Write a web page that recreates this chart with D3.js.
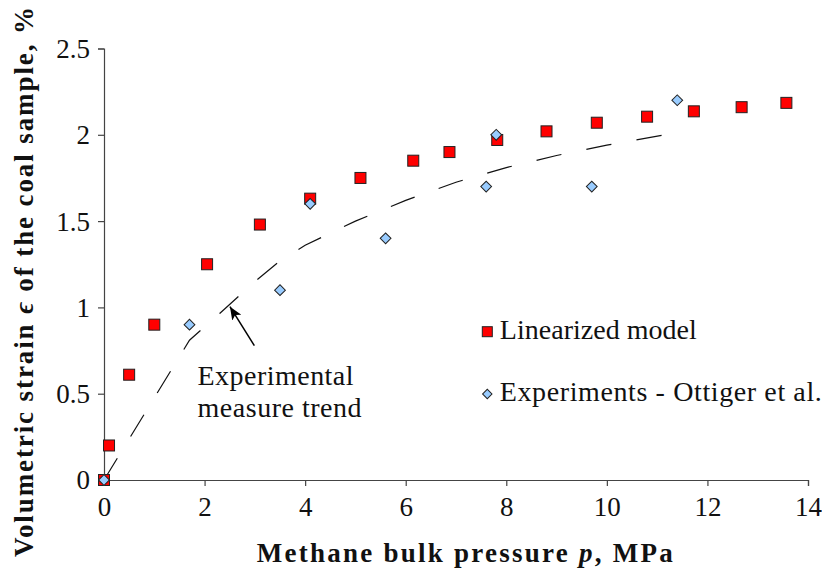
<!DOCTYPE html>
<html>
<head>
<meta charset="utf-8">
<script src="https://cdn.jsdelivr.net/npm/d3@7"></script>
<style>
  body { margin: 0; background: #fff; }
  svg text { font-family: "Liberation Serif", serif; fill: #111; }
</style>
</head>
<body>
<script>
// data
var modelP = [0, 0.1, 0.5, 1.0, 2.05, 3.1, 4.1, 5.1, 6.15, 6.87, 7.82, 8.8, 9.8, 10.8, 11.73, 12.68, 13.57];
var modelE = [0, 0.2, 0.61, 0.90, 1.25, 1.48, 1.63, 1.75, 1.85, 1.90, 1.97, 2.02, 2.07, 2.105, 2.136, 2.16, 2.185];

var expP = [0, 1.7, 3.5, 4.1, 5.6, 7.6, 7.8, 9.7, 11.4];
var expE = [0, 0.9, 1.1, 1.6, 1.4, 1.7, 2.0, 1.7, 2.2];

var trendP = [0, 1.7, 2.3, 3.0, 3.5, 4.0, 5.0, 6.0, 7.0, 8.0, 9.0, 10.0, 11.35];
var trendE = [0, 0.81, 0.965, 1.15, 1.27, 1.36, 1.50, 1.62, 1.725, 1.81, 1.88, 1.94, 2.01];

var xTicks = [0, 2, 4, 6, 8, 10, 12, 14];
var yTicks = [0, 0.5, 1, 1.5, 2, 2.5];

var legendLabels = ["Linearized model", "Experiments - Ottiger et al."];
var legendWidths = [197, 322];
var noteLines = ["Experimental", "measure trend"];
var noteWidths = [156, 164];
var noteAt = [1.86, 0.55];
var arrowFrom = [2.99, 0.778];
var arrowTo = [2.505, 1.004];

var width = 822, height = 571;
var margin = {top: 48.5, right: 14, bottom: 91, left: 104};

var svg = d3.select("body").append("svg")
    .attr("width", width)
    .attr("height", height);

var xScale = d3.scaleLinear().domain([0, 14]).range([margin.left, width - margin.right]);
var yScale = d3.scaleLinear().domain([0, 2.5]).range([height - margin.bottom, margin.top]);

svg.append("defs").append("marker")
    .attr("id", "arrowhead")
    .attr("viewBox", "0 0 12 10")
    .attr("refX", 12)
    .attr("refY", 5)
    .attr("markerWidth", 13)
    .attr("markerHeight", 11)
    .attr("markerUnits", "userSpaceOnUse")
    .attr("orient", "auto")
    .append("path")
    .attr("d", "M0,0 L12,5 L0,10 L3,5 Z")
    .attr("fill", "#000");

// axes
var xAxis = svg.append("g")
    .attr("transform", "translate(0," + yScale(0) + ")")
    .call(d3.axisBottom(xScale).tickValues(xTicks).tickSizeOuter(0).tickSize(6).tickPadding(9)
        .tickFormat(d3.format("d")));

var yAxis = svg.append("g")
    .attr("transform", "translate(" + xScale(0) + ",0)")
    .call(d3.axisLeft(yScale).tickValues(yTicks).tickSizeOuter(0).tickSize(6).tickPadding(8)
        .tickFormat(function(d) { return String(d); }));

svg.selectAll(".domain, .tick line").attr("stroke", "#444").attr("stroke-width", 1.2);
svg.selectAll(".tick text")
    .style("font-family", "'Liberation Serif', serif")
    .style("font-size", "27px")
    .attr("fill", "#111");
xAxis.selectAll(".tick text").attr("dy", "0.78em");
yAxis.selectAll(".tick text").attr("dy", "0.33em");

// trend line
var trend = trendP.map(function(p, i) { return [p, trendE[i]]; });
var line = d3.line()
    .x(function(d) { return xScale(d[0]); })
    .y(function(d) { return yScale(d[1]); });

svg.append("path")
    .datum(trend)
    .attr("d", line)
    .attr("fill", "none")
    .attr("stroke", "#111")
    .attr("stroke-width", 1.2)
    .attr("stroke-dasharray", "25.5,25.5");

// model squares
var sq = 11;
svg.selectAll(".model")
    .data(modelP.map(function(p, i) { return [p, modelE[i]]; }))
    .enter().append("rect")
    .attr("class", "model")
    .attr("x", function(d) { return xScale(d[0]) - sq / 2; })
    .attr("y", function(d) { return yScale(d[1]) - sq / 2; })
    .attr("width", sq)
    .attr("height", sq)
    .attr("fill", "#ff0000")
    .attr("stroke", "#222")
    .attr("stroke-width", 1);

// experiment diamonds
var dia = d3.symbol().type(d3.symbolSquare).size(58);
svg.selectAll(".exp")
    .data(expP.map(function(p, i) { return [p, expE[i]]; }))
    .enter().append("path")
    .attr("class", "exp")
    .attr("d", dia)
    .attr("transform", function(d) {
        return "translate(" + xScale(d[0]) + "," + yScale(d[1]) + ") rotate(45)"; })
    .attr("fill", "#99ccff")
    .attr("stroke", "#222")
    .attr("stroke-width", 1);

// annotation
svg.append("line")
    .attr("x1", xScale(arrowFrom[0]))
    .attr("y1", yScale(arrowFrom[1]))
    .attr("x2", xScale(arrowTo[0]))
    .attr("y2", yScale(arrowTo[1]))
    .attr("stroke", "#000")
    .attr("stroke-width", 1.5)
    .attr("marker-end", "url(#arrowhead)");

svg.selectAll(".note")
    .data(noteLines)
    .enter().append("text")
    .attr("class", "note")
    .attr("x", xScale(noteAt[0]))
    .attr("y", function(d, i) { return yScale(noteAt[1]) + i * 31.7; })
    .attr("textLength", function(d, i) { return noteWidths[i]; })
    .attr("lengthAdjust", "spacing")
    .style("font-size", "28px")
    .text(function(d) { return d; });

// legend
var legX = 487.3, legY = [331.7, 394];
svg.append("rect")
    .attr("x", legX - 5)
    .attr("y", legY[0] - 5)
    .attr("width", 10)
    .attr("height", 10)
    .attr("fill", "#ff0000")
    .attr("stroke", "#222");
svg.append("path")
    .attr("d", d3.symbol().type(d3.symbolSquare).size(44))
    .attr("transform", "translate(" + legX + "," + legY[1] + ") rotate(45)")
    .attr("fill", "#99ccff")
    .attr("stroke", "#222");
svg.selectAll(".legtext")
    .data(legendLabels)
    .enter().append("text")
    .attr("class", "legtext")
    .attr("x", legX + 12.5)
    .attr("y", function(d, i) { return legY[i] + 7; })
    .attr("textLength", function(d, i) { return legendWidths[i]; })
    .attr("lengthAdjust", "spacing")
    .style("font-size", "28px")
    .text(function(d) { return d; });

// axis titles
var xt = svg.append("text")
    .attr("x", 256.7)
    .attr("y", 561.7)
    .attr("textLength", 416)
    .attr("lengthAdjust", "spacing")
    .style("font-size", "27px")
    .style("font-weight", "bold");
xt.append("tspan").text("Methane bulk pressure ");
xt.append("tspan").style("font-style", "italic").text("p");
xt.append("tspan").text(", MPa");

var yt = svg.append("text")
    .attr("transform", "translate(33,557) rotate(-90)")
    .attr("textLength", 550)
    .attr("lengthAdjust", "spacing")
    .style("font-size", "27px")
    .style("font-weight", "bold");
yt.append("tspan").text("Volumetric strain ");
yt.append("tspan").style("font-style", "italic").text("\u03f5");
yt.append("tspan").text(" of the coal sample, %");
</script>
</body>
</html>
